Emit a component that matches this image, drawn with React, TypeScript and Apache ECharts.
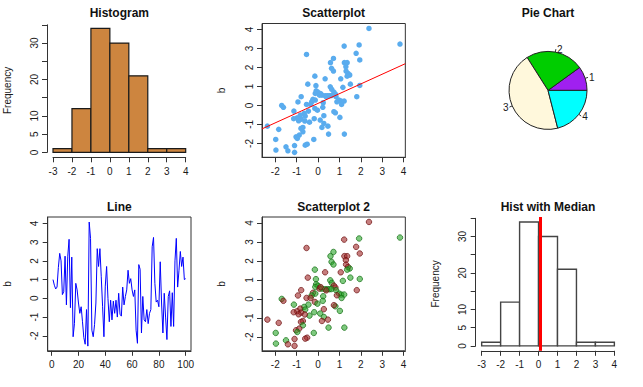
import React, { useEffect, useRef } from 'react';
import * as echarts from 'echarts';

// ---------- data ----------
const histEdges = [-3, -2, -1, 0, 1, 2, 3, 4];
const histCounts = [1, 12, 34, 30, 21, 1, 1];
const histMedian = 0.1;
const histYLabels = [0, 5, 10, 20, 30];

const aVals = [
  2.38, 3.83, 1.92, 1.22, -0.54, 1.78, 1.95, 0.72, 0.58, 1.23,
  1.36, 1.30, 0.63, 0.72, 1.31, 1.40, 1.48, 1.36, -0.15, 0.33,
  1.06, -0.48, 1.51, 1.95, 1.16, -0.10, 0.57, 0.64, 0.74, 0.81,
  -0.09, -0.01, -0.13, 0.07, 0.18, 0.33, 0.43, 0.53, 1.81, 0.84,
  -0.79, -0.24, -0.13, 0.98, 1.08, 1.22, 0.88, 0.24, -0.94, -0.54,
  -1.70, -1.62, -0.15, -0.03, 0.81, 0.74, -1.13, -0.65, -0.83, 0.27,
  -0.18, -0.60, -0.98, -1.14, -0.79, -0.91, 0.10, 1.02, -0.40, 0.27,
  0.46, 0.18, -0.71, -0.80, -1.84, -2.37, -0.71, 0.49, 1.23, -0.88,
  -1.03, -0.97, -0.20, -1.98, -0.51, -0.60, -1.10, -1.50, -1.97, -1.41,
  -1.10, -0.45, 1.10, -0.30, -0.62, -0.35, 0.12, 0.38, 0.62, 0.22,
];
const bVals = [
  4.05, 3.23, 3.18, 3.12, 2.68, 2.74, 2.39, 2.47, 2.25, 2.25,
  2.25, 2.04, 1.95, 1.81, 1.81, 1.68, 1.60, 1.54, 1.54, 1.40,
  1.40, 1.12, 1.12, 1.05, 0.95, 1.04, 0.98, 0.84, 0.70, 0.60,
  0.77, 0.70, 0.63, 0.54, 0.54, 0.51, 0.51, 0.51, 0.46, 0.46,
  0.46, 0.32, 0.28, 0.28, 0.23, 0.23, 0.19, 0.14, 0.18, 0.05,
  0.00, -0.10, -0.16, -0.25, -0.39, -0.33, -0.30, -0.42, -0.51, -0.54,
  -0.70, -0.56, -0.65, -0.70, -0.72, -0.81, -0.77, -0.63, -0.88, -0.95,
  -1.09, -1.16, -1.16, -1.21, -1.26, -1.09, -1.39, -1.51, -1.51, -1.56,
  -1.65, -1.74, -1.79, -1.79, -2.04, -2.09, -2.11, -2.18, -2.35, -2.39,
  -2.47, -0.30, 0.05, 0.18, -0.82, 0.05, 0.62, 0.45, 0.52, -0.10,
];
const groupVals = [
  'R', 'G', 'G', 'R', 'R', 'R', 'R', 'G', 'G', 'R',
  'R', 'R', 'G', 'G', 'R', 'R', 'G', 'G', 'G', 'R',
  'R', 'R', 'G', 'G', 'G', 'G', 'G', 'G', 'R', 'R',
  'G', 'G', 'G', 'R', 'G', 'G', 'G', 'G', 'R', 'G',
  'R', 'R', 'G', 'G', 'G', 'G', 'R', 'G', 'R', 'R',
  'G', 'R', 'R', 'G', 'G', 'R', 'G', 'G', 'R', 'R',
  'G', 'G', 'R', 'R', 'R', 'R', 'G', 'G', 'G', 'G',
  'R', 'R', 'R', 'R', 'R', 'R', 'G', 'G', 'G', 'R',
  'R', 'G', 'G', 'G', 'R', 'R', 'R', 'G', 'G', 'R',
  'R', 'G', 'G', 'G', 'R', 'R', 'R', 'R', 'G', 'G',
];

const lineB = [
  1.00, 0.70, 0.50, 0.60, 1.65, 2.40, 2.00, 0.20, 0.35, 2.25,
  -0.35, 2.25, 3.15, -0.50, 2.20, -2.05, -1.35, 0.80, 0.45, -0.25,
  -0.80, -0.45, -1.25, -2.10, -2.45, -0.60, -2.55, 4.07, 3.20, -1.70,
  -2.05, -1.40, -0.25, 2.65, 1.70, 2.65, 1.15, -0.45, -2.05, 0.65,
  1.70, 0.00, -1.25, -0.10, -1.15, -0.15, -0.80, -0.10, -1.00, 0.27,
  -0.85, -0.95, 0.60, -0.35, 0.10, 0.45, 1.50, 0.80, 1.05, 0.45,
  0.10, 0.45, -1.70, -2.40, 1.80, 1.55, -1.85, 0.10, -1.15, -1.25,
  -0.60, -1.35, -0.80, -0.60, 2.75, 3.25, 0.80, -0.20, -0.10, -0.45,
  1.95, -0.25, -1.85, 0.27, -1.00, -2.20, 0.10, 0.40, -1.50, 0.30,
  -1.50, 2.00, 3.20, 0.60, 1.50, 2.50, 1.70, 2.20, 1.00, 1.05,
];

const pieValues = [10, 24, 45, 21];
const pieLabels = ['1', '2', '3', '4'];
const pieColors = ['#A020F0', '#00CD00', '#FFF8DC', '#00FFFF'];

const regIntercept = 0.107;
const regSlope = 0.512;

const scatterTicks = [-2, -1, 0, 1, 2, 3, 4];
const lineXTicks = [0, 20, 40, 60, 80, 100];

const titles = ['Histogram', 'Scatterplot', 'Pie Chart', 'Line', 'Scatterplot 2', 'Hist with Median'];

// ---------- layout ----------
const W = 643;
const H = 387;
const colX = [0, 214.33, 428.67];
const rowY = [0, 193.5];
const RL = 47.7, RR = 191, RT = 23.5, RB = 157.3;
const RW = RR - RL, RH = RB - RT;
const FONT = '"Liberation Sans", Arial, Helvetica, sans-serif';
const AXC = '#333';
const TXC = '#1a1a1a';

const SX = [-2.62, 4.08];
const SY = [-2.73, 4.31];
const LX = [-2.96, 103.96];
const LY = [-2.8, 4.34];
const HX = [-3.28, 4.28];
const HY = [-1.36, 35.36];

function histGrids(cx: number, cy: number) {
  const pxPerX = RW / (HX[1] - HX[0]);
  const left = cx + RL + (histEdges[0] - HX[0]) * pxPerX;
  const width = (histEdges[histEdges.length - 1] - histEdges[0]) * pxPerX;
  const pxPerY = RH / (HY[1] - HY[0]);
  const top35 = cy + RT + (HY[1] - 35) * pxPerY;
  const h035 = 35 * pxPerY;
  return [
    { left, top: cy + RT, width, height: RH },
    { left, top: top35, width, height: h035 },
  ];
}

function axisCommon(extra: any) {
  return {
    type: 'value',
    splitLine: { show: false },
    axisLine: { show: true, onZero: false, lineStyle: { color: AXC, width: 1 } },
    axisTick: { show: true, length: 5, lineStyle: { color: AXC, width: 1 } },
    ...extra,
  };
}

function xLabel(extra: any = {}) {
  return { color: TXC, fontSize: 10, fontFamily: FONT, margin: 9, ...extra };
}
function yLabel(extra: any = {}) {
  return { color: TXC, fontSize: 10, fontFamily: FONT, margin: 8, rotate: 90, ...extra };
}

function buildOption() {
  const h1 = histGrids(colX[0], rowY[0]);
  const h2 = histGrids(colX[2], rowY[1]);
  const boxGrid = (cx: number, cy: number) => ({
    left: cx + RL, top: cy + RT, width: RW, height: RH,
    show: true, borderColor: AXC, borderWidth: 1, backgroundColor: 'transparent',
  });

  const grids = [
    h1[0], h1[1],
    boxGrid(colX[1], rowY[0]),
    boxGrid(colX[0], rowY[1]),
    boxGrid(colX[1], rowY[1]),
    h2[0], h2[1],
  ];

  const hiddenX = (gi: number, mn: number, mx: number) => ({ type: 'value', gridIndex: gi, min: mn, max: mx, show: false });
  const hiddenY = hiddenX;

  const histX = (gi: number) => axisCommon({
    gridIndex: gi, min: -3, max: 4, interval: 1, position: 'bottom',
    axisLabel: xLabel({ showMinLabel: true, showMaxLabel: true, interval: 0 }),
  });
  const histY = (gi: number) => axisCommon({
    gridIndex: gi, min: 0, max: 35, interval: 5, position: 'left', offset: 6,
    axisLabel: yLabel({
      showMinLabel: true, showMaxLabel: true, interval: 0,
      formatter: (v: number) => (histYLabels.indexOf(v) >= 0 ? String(v) : ''),
    }),
  });
  const boxX = (gi: number, range: number[], ticks: number[]) => axisCommon({
    gridIndex: gi, min: range[0], max: range[1], position: 'bottom',
    axisTick: { show: true, length: 5, customValues: ticks, lineStyle: { color: AXC, width: 1 } },
    axisLabel: xLabel({ customValues: ticks }),
  });
  const boxY = (gi: number, range: number[], ticks: number[]) => axisCommon({
    gridIndex: gi, min: range[0], max: range[1], position: 'left',
    axisTick: { show: true, length: 5, customValues: ticks, lineStyle: { color: AXC, width: 1 } },
    axisLabel: yLabel({ customValues: ticks }),
  });

  const xAxis = [
    histX(0),
    hiddenX(1, -3, 4),
    boxX(2, SX, scatterTicks),
    boxX(3, LX, lineXTicks),
    boxX(4, SX, scatterTicks),
    histX(5),
    hiddenX(6, -3, 4),
  ];
  const yAxis = [
    hiddenY(0, HY[0], HY[1]),
    histY(1),
    boxY(2, SY, scatterTicks),
    boxY(3, LY, scatterTicks),
    boxY(4, SY, scatterTicks),
    hiddenY(5, HY[0], HY[1]),
    histY(6),
  ];

  const histData = histCounts.map((c, i) => [histEdges[i], histEdges[i + 1], c]);
  const histRender = (fill: string, stroke: string, lw: number) => (params: any, api: any) => {
    const p0 = api.coord([api.value(0), 0]);
    const p1 = api.coord([api.value(1), api.value(2)]);
    return {
      type: 'rect',
      shape: { x: p0[0], y: p1[1], width: p1[0] - p0[0], height: p0[1] - p1[1] },
      style: { fill, stroke, lineWidth: lw },
    };
  };

  const red = { color: 'rgba(160,40,40,0.75)', borderColor: 'rgba(110,15,15,0.9)', borderWidth: 1 };
  const green = { color: 'rgba(40,165,40,0.75)', borderColor: 'rgba(20,110,20,0.9)', borderWidth: 1 };

  const series: any[] = [
    {
      type: 'custom', xAxisIndex: 0, yAxisIndex: 0, data: histData,
      renderItem: histRender('#CD853F', '#1a1a1a', 1.2),
      encode: { x: [0, 1], y: 2 },
    },
    {
      type: 'scatter', xAxisIndex: 2, yAxisIndex: 2, symbolSize: 5.5,
      data: aVals.map((a, i) => [a, bVals[i]]),
      itemStyle: { color: '#5AACEE', opacity: 1 },
    },
    {
      type: 'line', xAxisIndex: 2, yAxisIndex: 2, symbol: 'none',
      data: SX.map((x) => [x, regIntercept + regSlope * x]),
      lineStyle: { color: '#FF0000', width: 1 },
    },
    {
      type: 'pie', center: [colX[2] + (RL + RR) / 2, rowY[0] + (RT + RB) / 2], radius: 39,
      startAngle: 0, clockwise: false,
      data: pieValues.map((v, i) => ({ value: v, name: pieLabels[i], itemStyle: { color: pieColors[i] } })),
      itemStyle: { borderColor: '#222', borderWidth: 1 },
      label: { show: true, position: 'outside', color: TXC, fontSize: 10, fontFamily: FONT, formatter: '{b}', distanceToLabelLine: 1 },
      labelLine: { show: true, length: 3, length2: 0, lineStyle: { color: '#333', width: 1 } },
      emphasis: { disabled: true },
    },
    {
      type: 'line', xAxisIndex: 3, yAxisIndex: 3, symbol: 'none',
      data: lineB.map((v, i) => [i + 1, v]),
      lineStyle: { color: '#0000FF', width: 1 },
    },
    {
      type: 'scatter', xAxisIndex: 4, yAxisIndex: 4, symbolSize: 5.5,
      data: aVals.map((a, i) => ({ value: [a, bVals[i]], itemStyle: groupVals[i] === 'R' ? red : green })),
    },
    {
      type: 'custom', xAxisIndex: 5, yAxisIndex: 5, data: histData,
      renderItem: histRender('#FFFFFF', '#444', 1.4),
      encode: { x: [0, 1], y: 2 },
      markLine: {
        silent: true, symbol: 'none', label: { show: false },
        lineStyle: { color: '#FF0000', width: 3, type: 'solid' },
        data: [{ xAxis: histMedian }],
      },
    },
  ];

  const graphics: any[] = [];
  titles.forEach((t, k) => {
    const cx = colX[k % 3] + (RL + RR) / 2;
    const cy = rowY[Math.floor(k / 3)] + 13;
    graphics.push({
      type: 'text', x: cx, y: cy,
      style: {
        text: t, font: `bold 12px ${FONT}`, fill: '#111',
        align: 'center', verticalAlign: 'middle', textAlign: 'center', textVerticalAlign: 'middle',
      },
    });
  });
  const yNames = ['Frequency', 'b', '', 'b', 'b', 'Frequency'];
  yNames.forEach((t, k) => {
    if (!t) return;
    const cx = colX[k % 3] + 7.3;
    const cy = rowY[Math.floor(k / 3)] + (RT + RB) / 2;
    graphics.push({
      type: 'text', x: cx, y: cy, rotation: Math.PI / 2,
      style: {
        text: t, font: `10px ${FONT}`, fill: TXC,
        align: 'center', verticalAlign: 'middle', textAlign: 'center', textVerticalAlign: 'middle',
      },
    });
  });

  return {
    animation: false,
    backgroundColor: '#FFFFFF',
    grid: grids,
    xAxis,
    yAxis,
    series,
    graphic: graphics,
  };
}

export default function App() {
  const ref = useRef<HTMLDivElement>(null);
  useEffect(() => {
    if (!ref.current) return;
    const chart = echarts.init(ref.current, undefined, { renderer: 'svg' });
    chart.setOption(buildOption() as any);
    return () => chart.dispose();
  }, []);
  return (
    <div
      ref={ref}
      style={{ position: 'fixed', left: 0, top: 0, width: W, height: H, background: '#fff' }}
    />
  );
}
